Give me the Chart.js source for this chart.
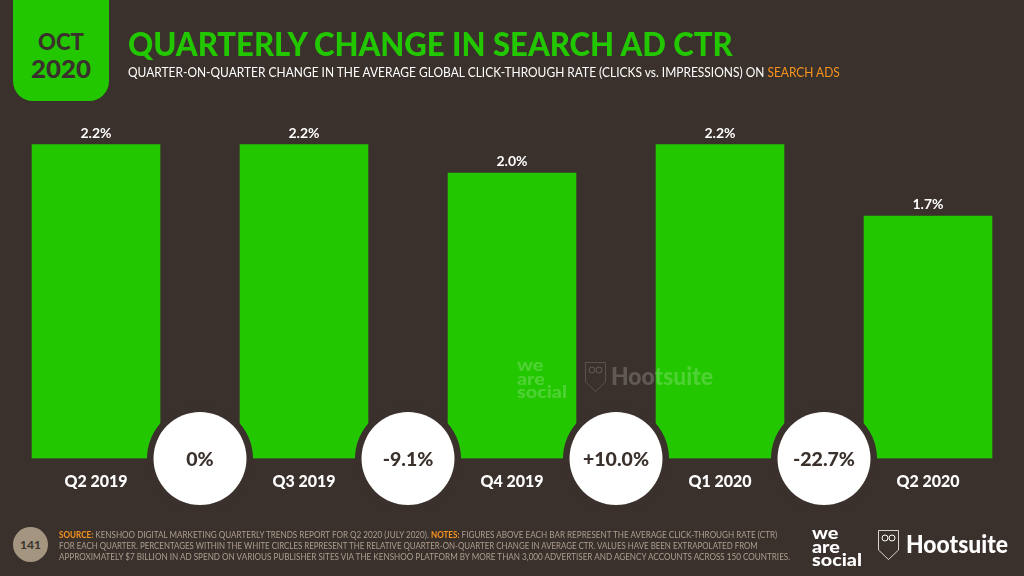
<!DOCTYPE html>
<html>
<head>
<meta charset="utf-8">
<script src="https://cdn.jsdelivr.net/npm/chart.js@4/dist/chart.umd.min.js"></script>
<style>
  html, body { margin:0; width:1024px; height:576px; overflow:hidden; background:#3a302c; font-family:'Lato',sans-serif; }
  #ctrChart { position:absolute; left:-8px; top:0; }
  .t { position:absolute; white-space:nowrap; transform-origin:0 50%; line-height:1; }
  .or { color:#f7941d; font-weight:700; }
  #badge { position:absolute; left:13px; top:0; width:96px; height:101px; background:#22c700; border-radius:0 0 20px 20px; }
  #page { position:absolute; left:13px; top:527px; width:35px; height:35px; border-radius:50%; background:#a3957f; color:#3a302c; font-weight:700; font-size:12px; line-height:35px; text-align:center; }
  svg { position:absolute; overflow:visible; }
</style>
</head>
<body>
<canvas id="ctrChart" width="1040" height="576"></canvas>

<div id="badge"></div>
<div class="t" data-w="46" style="left:38px;top:31px;font-size:22px;font-weight:900;color:#3a302c">OCT</div>
<div class="t" data-w="60" style="left:31px;top:57px;font-size:24px;font-weight:900;color:#3a302c">2020</div>

<div class="t" data-w="605" style="left:128px;top:27px;font-size:33px;font-weight:900;color:#22c700">QUARTERLY CHANGE IN SEARCH AD CTR</div>
<div class="t" data-w="712" style="left:128px;top:66px;font-size:13px;color:#fff">QUARTER-ON-QUARTER CHANGE IN THE AVERAGE GLOBAL CLICK-THROUGH RATE (CLICKS vs. IMPRESSIONS) ON <span class="or" style="font-weight:400">SEARCH ADS</span></div>

<!-- marca de agua -->
<div style="position:absolute;left:0;top:0;opacity:.2">
  <div class="t" data-w="50" style="left:517px;top:358px;font-size:17px;font-weight:900;line-height:13.5px;color:#fff">we<br>are<br>social</div>
  <svg style="left:585px;top:362px" width="21" height="30" viewBox="0 0 21 30"><path d="M.5 .5H20.5V20L10.5 29.5 .5 20Z" fill="none" stroke="#fff" stroke-width=".8"/><circle cx="7" cy="8" r="3" fill="none" stroke="#fff"/><circle cx="14" cy="8" r="3" fill="none" stroke="#fff"/></svg>
  <div class="t" data-w="102" style="left:611px;top:364px;font-size:24px;font-weight:900;color:#fff">Hootsuite</div>
</div>

<div id="page">141</div>
<div class="t" data-w="718" style="left:59px;top:530px;font-size:9px;color:#ad9f8f"><span class="or">SOURCE:</span> KENSHOO DIGITAL MARKETING QUARTERLY TRENDS REPORT FOR Q2 2020 (JULY 2020). <span class="or">NOTES:</span> FIGURES ABOVE EACH BAR REPRESENT THE AVERAGE CLICK-THROUGH RATE (CTR)</div>
<div class="t" data-w="699" style="left:59px;top:541px;font-size:9px;color:#ad9f8f">FOR EACH QUARTER. PERCENTAGES WITHIN THE WHITE CIRCLES REPRESENT THE RELATIVE QUARTER-ON-QUARTER CHANGE IN AVERAGE CTR. VALUES HAVE BEEN EXTRAPOLATED FROM</div>
<div class="t" data-w="731" style="left:59px;top:552px;font-size:9px;color:#ad9f8f">APPROXIMATELY $7 BILLION IN AD SPEND ON VARIOUS PUBLISHER SITES VIA THE KENSHOO PLATFORM BY MORE THAN 3,000 ADVERTISER AND AGENCY ACCOUNTS ACROSS 150 COUNTRIES.</div>

<!-- logos -->
<div class="t" data-w="50" style="left:812px;top:526px;font-size:17px;font-weight:900;line-height:13.5px;color:#fff">we<br>are<br>social</div>
<svg style="left:878px;top:530px" width="21" height="30" viewBox="0 0 21 30"><path d="M.5 .5H20.5V20L10.5 29.5 .5 20Z" fill="none" stroke="#fff" stroke-width=".8"/><circle cx="7" cy="8" r="3" fill="none" stroke="#fff"/><circle cx="14" cy="8" r="3" fill="none" stroke="#fff"/></svg>
<div class="t" data-w="102" style="left:906px;top:532px;font-size:24px;font-weight:900;color:#fff">Hootsuite</div>

<script>
// ── Datos ────────────────────────────────────────────────────
const TRIMESTRES = ['Q2 2019', 'Q3 2019', 'Q4 2019', 'Q1 2020', 'Q2 2020'];
const CTR_VALORES = [2.2, 2.2, 2.0, 2.2, 1.7];
const CAMBIOS = ['0%', '-9.1%', '+10.0%', '-22.7%'];

const VERDE = '#22c700';
const FONDO = '#3a302c';

// ajusta cada línea de texto al ancho medido en la referencia
document.querySelectorAll('.t[data-w]').forEach(el => {
  const w = el.getBoundingClientRect().width;
  el.style.transform = `scaleX(${(+el.dataset.w / w).toFixed(3)})`;
});

// ── Etiquetas sobre las barras y círculos de cambio ──────────
const etiquetas = {
  id: 'etiquetas',
  afterDraw(chart) {
    const { ctx, scales: { x, y } } = chart;
    ctx.save();
    ctx.textAlign = 'center';
    ctx.textBaseline = 'middle';

    ctx.fillStyle = '#fff';
    ctx.font = "700 14px Lato";
    CTR_VALORES.forEach((v, i) => {
      ctx.fillText(v.toFixed(1) + '%', x.getPixelForValue(i), y.getPixelForValue(v) - 11.5);
    });

    CAMBIOS.forEach((txt, i) => {
      const cx = (x.getPixelForValue(i) + x.getPixelForValue(i + 1)) / 2;
      const cy = y.getPixelForValue(0);
      ctx.fillStyle = FONDO;
      ctx.beginPath(); ctx.arc(cx, cy, 53, 0, Math.PI * 2); ctx.fill();
      ctx.fillStyle = '#fff';
      ctx.beginPath(); ctx.arc(cx, cy, 46.5, 0, Math.PI * 2); ctx.fill();
      ctx.fillStyle = FONDO;
      ctx.font = "900 19.5px Lato";
      ctx.fillText(txt, cx, cy + 1);
    });
    ctx.restore();
  },
};

// ── Gráfica ──────────────────────────────────────────────────
new Chart(document.getElementById('ctrChart'), {
  type: 'bar',
  data: {
    labels: TRIMESTRES,
    datasets: [{ data: CTR_VALORES, backgroundColor: VERDE, barThickness: 128 }],
  },
  options: {
    responsive: false,
    animation: false,
    layout: { padding: { top: 30.5 } },
    plugins: { legend: { display: false }, tooltip: { enabled: false } },
    scales: {
      x: {
        grid: { display: false },
        border: { display: false },
        ticks: { color: '#fff', font: { family: 'Lato', size: 16, weight: '900' }, padding: 6, maxRotation: 0 },
        afterFit(scale) { scale.height = 117.5; },
      },
      y: { display: false, min: 0, max: 3 },
    },
  },
  plugins: [etiquetas],
});
</script>
</body>
</html>
